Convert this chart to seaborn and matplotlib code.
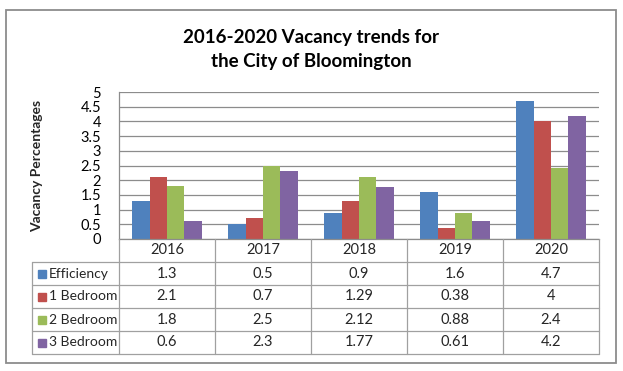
import matplotlib
matplotlib.use("Agg")
import matplotlib.pyplot as plt
import seaborn as sns
import pandas as pd
import numpy as np
from matplotlib.patches import Rectangle

years = ["2016", "2017", "2018", "2019", "2020"]
units = ["Efficiency", "1 Bedroom", "2 Bedroom", "3 Bedroom"]
efficiency = [1.3, 0.5, 0.9, 1.6, 4.7]
bedroom_1 = [2.1, 0.7, 1.29, 0.38, 4]
bedroom_2 = [1.8, 2.5, 2.12, 0.88, 2.4]
bedroom_3 = [0.6, 2.3, 1.77, 0.61, 4.2]
colors = ["#4F81BD", "#C0504D", "#9BBB59", "#8064A2"]
yticks = [0, 0.5, 1, 1.5, 2, 2.5, 3, 3.5, 4, 4.5, 5]

series = [efficiency, bedroom_1, bedroom_2, bedroom_3]
df = pd.DataFrame({
    "year": years * len(units),
    "unit": [u for u in units for _ in years],
    "value": [v for s in series for v in s],
})

sns.set_theme(style="white")
plt.rcParams["font.family"] = ["Lato", "DejaVu Sans"]

W, H = 623, 371
fig = plt.figure(figsize=(W / 100, H / 100), dpi=100)
fig.patch.set_facecolor("white")


def box(x0, y0, x1, y1):
    # pixel box (top-left origin) -> figure rect
    return [x0 / W, 1 - y1 / H, (x1 - x0) / W, (y1 - y0) / H]


# outer chart border
fig.patches.append(Rectangle((6 / W, 1 - 363 / H), 610 / W, 353 / H,
                             transform=fig.transFigure, fill=False,
                             ec="#8c8c8c", lw=1.3))

fig.text(311 / W, 1 - 49 / H, "2016-2020 Vacancy trends for\nthe City of Bloomington",
         ha="center", va="center", fontsize=13.5, fontweight="bold",
         linespacing=1.5, color="black")

# bars
ax = fig.add_axes(box(119, 92, 599, 239))
sns.barplot(data=df, x="year", y="value", hue="unit", palette=colors,
            width=4 / 5.5, saturation=1, errorbar=None, linewidth=0,
            legend=False, ax=ax)
ax.set_xlim(-0.5, 4.5)
ax.set_ylim(0, 5)
ax.set_yticks(yticks)
ax.set_yticklabels([f"{t:g}" for t in yticks], fontsize=10.5)
ax.tick_params(axis="y", length=0, pad=13, colors="black")
ax.set_xticks([])
ax.set_xlabel("")
ax.yaxis.grid(True, color="#8c8c8c", lw=0.9)
ax.set_axisbelow(True)
for side in ["top", "right"]:
    ax.spines[side].set_visible(False)
for side in ["left", "bottom"]:
    ax.spines[side].set_color("#8c8c8c")
    ax.spines[side].set_linewidth(0.9)
ax.set_ylabel("Vacancy Percentages", fontsize=10, fontweight="bold")
ax.yaxis.set_label_coords((43 - 119) / 480, 0.5)

# data table
xl = -0.5 - 87 / 96
tab = fig.add_axes(box(32, 239, 599, 354))
tab.set_xlim(xl, 4.5)
tab.set_ylim(5, 0)
tab.axis("off")
lc = "#a0a0a0"
for i in range(6):
    tab.plot([i - 0.5, i - 0.5], [0, 5], color=lc, lw=0.9, clip_on=False)
tab.plot([xl, xl], [1, 5], color=lc, lw=0.9, clip_on=False)
for r in range(1, 6):
    tab.plot([xl, 4.5], [r, r], color=lc, lw=0.9, clip_on=False)

for i, y in enumerate(years):
    tab.text(i, 0.5, y, ha="center", va="center", fontsize=10.5)
for r, (u, s, c) in enumerate(zip(units, series, colors)):
    tab.plot(xl + 9.5 / 96, r + 1.5, marker="s", ms=6, color=c, lw=0)
    tab.text(xl + 17 / 96, r + 1.5, u, ha="left", va="center", fontsize=10)
    for i, v in enumerate(s):
        tab.text(i, r + 1.5, f"{v:g}", ha="center", va="center", fontsize=10.5)

fig.savefig("out.png", dpi=100)
